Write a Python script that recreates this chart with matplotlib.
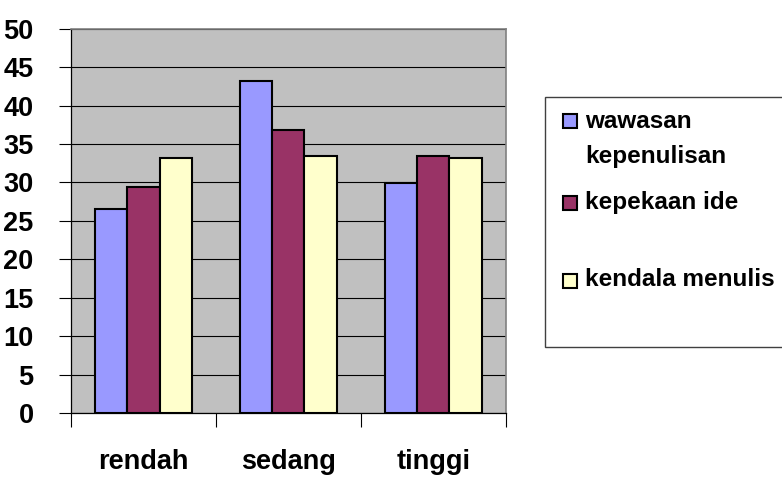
import numpy as np
import matplotlib
matplotlib.use('Agg')
import matplotlib.pyplot as plt
from matplotlib.patches import Rectangle

plt.rcParams['font.family'] = ['Liberation Sans', 'DejaVu Sans']
plt.rcParams['font.weight'] = 'bold'

categories = ['rendah', 'sedang', 'tinggi']
series_names = ['wawasan\nkepenulisan', 'kepekaan ide', 'kendala menulis']
wawasan = [26.6, 43.2, 29.9]
kepekaan = [29.4, 36.8, 33.5]
kendala = [33.2, 33.5, 33.2]
colors = ['#9999FF', '#993366', '#FFFFCC']

fig = plt.figure(figsize=(7.82, 4.78), dpi=100)
ax = fig.add_axes([0.0908, 0.136, 0.556, 0.804])
ax.set_facecolor('#C0C0C0')

x = np.arange(len(categories))
w = 0.222
for i, vals in enumerate([wawasan, kepekaan, kendala]):
    ax.bar(x + (i - 1) * w, vals, w, color=colors[i], edgecolor='black',
           linewidth=1.5, zorder=3)

ax.set_xlim(-0.5, 2.5)
ax.set_ylim(0, 50)
ax.set_yticks(np.arange(0, 51, 5))
ax.yaxis.grid(True, color='black', linewidth=0.8, zorder=1)
ax.set_axisbelow(True)

ax.set_xticks(x)
ax.set_xticklabels(categories, fontsize=19.5, fontweight='bold')
ax.tick_params(axis='x', which='major', length=0, pad=26)
ax.set_xticks([-0.5, 0.5, 1.5, 2.5], minor=True)
ax.tick_params(axis='x', which='minor', length=10, width=0.8, color='black')
ax.tick_params(axis='y', length=9, width=0.8, pad=18, labelsize=19.5)
for lab in ax.get_yticklabels():
    lab.set_fontweight('bold')

ax.spines['top'].set_color('#808080')
ax.spines['right'].set_color('#808080')
ax.spines['top'].set_linewidth(1.2)
ax.spines['right'].set_linewidth(1.2)
ax.spines['left'].set_linewidth(0.9)
ax.spines['bottom'].set_linewidth(0.9)

# legend box drawn by hand to match the uneven spacing
W, H = 782, 478
fig.patches.append(Rectangle((545 / W, (H - 347) / H), 260 / W, 250 / H,
                             transform=fig.transFigure, facecolor='white',
                             edgecolor='#404040', linewidth=1.0, clip_on=False))
entry_y = [121, 203, 281]
text_y = [[121, 157], [202], [280]]
for i, name in enumerate(series_names):
    yc = entry_y[i]
    fig.patches.append(Rectangle((563 / W, (H - yc - 7) / H), 14 / W, 14 / H,
                                 transform=fig.transFigure, facecolor=colors[i],
                                 edgecolor='black', linewidth=1.5))
    for line, ty in zip(name.split('\n'), text_y[i]):
        fig.text(585 / W, (H - ty) / H, line, fontsize=17.5, fontweight='bold',
                 va='center', ha='left')

fig.savefig('out.png', dpi=100)
